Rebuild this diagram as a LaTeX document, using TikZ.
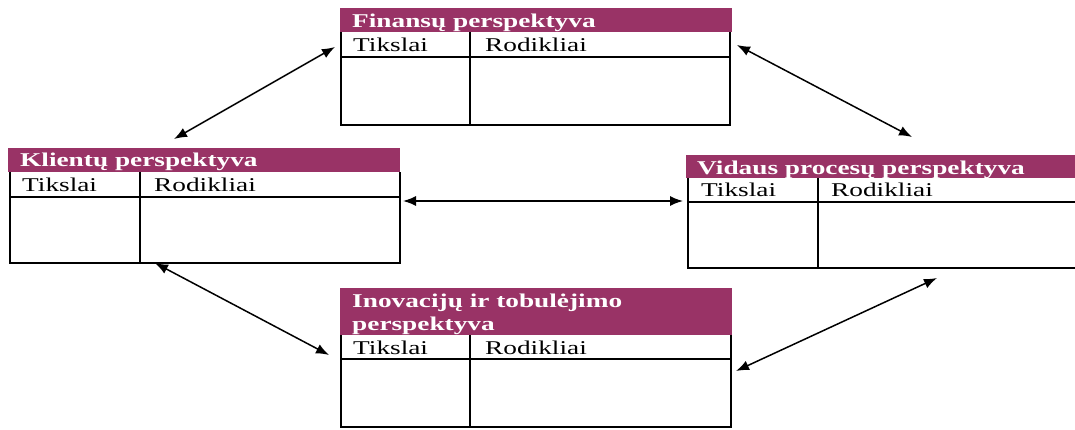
\documentclass[tikz,border=0pt]{standalone}
\usepackage{fontspec}
\setmainfont{Liberation Serif}[FakeStretch=1.4]
\usetikzlibrary{arrows.meta}
\definecolor{plum}{RGB}{153,51,102}

\tikzset{
  hdr/.style={fill=plum, draw=none, inner sep=0pt, anchor=north west},
  htext/.style={text=white, font=\fontsize{19.5}{23}\selectfont\bfseries,
                anchor=base west, inner sep=0pt},
  ctext/.style={font=\fontsize{19.5}{23}\selectfont, anchor=base west, inner sep=0pt},
  rule/.style={line width=2pt},
  link/.style={line width=1.5pt, {Latex[length=13pt,width=10pt]}-{Latex[length=13pt,width=10pt]}}
}

\begin{document}
\begin{tikzpicture}[x=1pt,y=-1pt]
\useasboundingbox[fill=white] (0,0) rectangle (1075,430);

% ---- Finansu perspektyva (top) ----
\node[hdr, minimum width=392pt, minimum height=24pt] (finH) at (340,8) {};
\node[htext] (finT) at (352,28) {Finansų perspektyva};
\draw[rule] (341,32) -- (341,125) -- (730,125) -- (730,32);
\draw[rule] (341,57) -- (730,57);
\draw[rule] (470,32) -- (470,125);
\node[ctext] (finA) at (353,52) {Tikslai};
\node[ctext] (finB) at (485,52) {Rodikliai};

% ---- Klientu perspektyva (left) ----
\node[hdr, minimum width=392pt, minimum height=24pt] (kliH) at (8,148) {};
\node[htext] (kliT) at (20,167) {Klientų perspektyva};
\draw[rule] (10,172) -- (10,263) -- (400,263) -- (400,172);
\draw[rule] (10,197) -- (400,197);
\draw[rule] (140,172) -- (140,263);
\node[ctext] (kliA) at (22,192) {Tikslai};
\node[ctext] (kliB) at (154,192) {Rodikliai};

% ---- Vidaus procesu perspektyva (right) ----
\node[hdr, minimum width=392pt, minimum height=23pt] (vidH) at (686,155) {};
\node[htext] (vidT) at (697,175) {Vidaus procesų perspektyva};
\draw[rule] (1080,268) -- (688,268) -- (688,178);
\draw[rule] (688,202) -- (1080,202);
\draw[rule] (818,178) -- (818,268);
\node[ctext] (vidA) at (701,197) {Tikslai};
\node[ctext] (vidB) at (831,197) {Rodikliai};

% ---- Inovaciju ir tobulejimo perspektyva (bottom) ----
\node[hdr, minimum width=392pt, minimum height=47pt] (inoH) at (340,288) {};
\node[htext] (inoT1) at (352,307) {Inovacijų ir tobulėjimo};
\node[htext] (inoT2) at (352,330) {perspektyva};
\draw[rule] (341,335) -- (341,427) -- (731,427) -- (731,335);
\draw[rule] (341,359) -- (731,359);
\draw[rule] (470,335) -- (470,427);
\node[ctext] (inoA) at (353,354) {Tikslai};
\node[ctext] (inoB) at (485,354) {Rodikliai};

% ---- connector ends ----
\coordinate (f1) at (335,47);
\coordinate (k1) at (174,139);
\coordinate (f2) at (737,45);
\coordinate (v1) at (912,137);
\coordinate (k2) at (403,201);
\coordinate (v2) at (683,201);
\coordinate (k3) at (155,263);
\coordinate (i1) at (329,355);
\coordinate (v3) at (937,278);
\coordinate (i2) at (736,371);

\draw[link] (f1) -- (k1);
\draw[link] (f2) -- (v1);
\draw[link] (k2) -- (v2);
\draw[link] (k3) -- (i1);
\draw[link] (v3) -- (i2);
\end{tikzpicture}
\end{document}
